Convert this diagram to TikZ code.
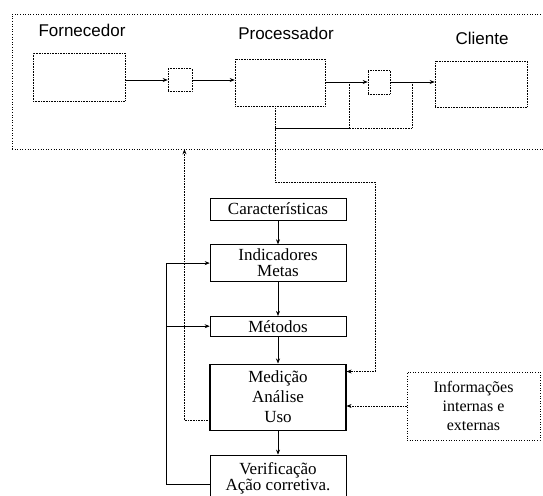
\documentclass[tikz,border=0pt]{standalone}
\usepackage{fontspec}
\setmainfont{Liberation Serif}
\newfontfamily\labelfont{Liberation Sans}
\usetikzlibrary{arrows.meta,positioning}

\begin{document}
\begin{tikzpicture}[x=1pt, y=-1pt, >={Stealth[length=5pt,width=4pt]}, line width=0.6pt,
    unit/.style={rectangle, draw, densely dotted, inner sep=0pt},
    stage/.style={rectangle, draw, minimum width=136pt, align=center, inner sep=2pt, font=\fontsize{17}{20}\selectfont},
    tag/.style={anchor=base, font=\labelfont\fontsize{17}{18}\selectfont},
    feed/.style={densely dotted}]
    \useasboundingbox (0,0) rectangle (543,495);

    % process chain
    \node [draw, dotted, minimum width=540pt, minimum height=135pt] (sys) at (282,81.5) {};
    \node [unit, minimum width=92pt, minimum height=48pt] (forn) at (79,77) {};
    \node [unit, minimum width=24pt, minimum height=23pt] (ent) at (180,80) {};
    \node [unit, minimum width=90pt, minimum height=47pt] (proc) at (280,82.5) {};
    \node [unit, minimum width=22pt, minimum height=24pt] (sai) at (379,82) {};
    \node [unit, minimum width=92pt, minimum height=46pt] (cli) at (481,84) {};
    \node [tag] (tforn) at (82,37) {Fornecedor};
    \node [tag] (tproc) at (286,40) {Processador};
    \node [tag] (tcli) at (482,45) {Cliente};

    \draw [->] (forn.east |- ent) -- (ent.west);
    \draw [->] (ent.east) -- (proc.west |- ent);
    \draw [->] (proc.east |- sai) -- (sai.west);
    \draw [->] (sai.east) -- (cli.west |- sai);

    % control column
    \node [stage, minimum height=22pt] (car) at (278,209) {Características};
    \node [stage, minimum height=37pt, below=24pt of car, font=\fontsize{17}{16}\selectfont] (ind) {Indicadores\\Metas};
    \node [stage, minimum height=20pt, below=34pt of ind] (met) {Métodos};
    \node [stage, minimum height=66pt, below=27pt of met, line width=1.1pt] (med) {Medição\\Análise\\Uso};
    \node [stage, minimum height=46pt, below=24pt of med, font=\fontsize{17}{16}\selectfont] (ver) {Verificação\\Ação corretiva.};
    \node [draw, dotted, minimum width=133pt, minimum height=68pt, align=center, font=\fontsize{16}{19}\selectfont] (info) at (473.5,406) {Informações\\internas e\\externas};

    \draw [->] (car) -- (ind);
    \draw [->] (ind) -- (met);
    \draw [->] (met) -- (med);
    \draw [->] (med) -- (ver);

    % feedback
    \coordinate (fa) at (349,82);
    \coordinate (fb) at (412,82);
    \coordinate (fj) at (275,128);
    \coordinate (fk) at (275,182);
    \coordinate (fm) at (375,182);
    \draw [feed] (fa) |- (fj);
    \draw [feed] (fb) |- (fj);
    \draw [feed, ->] (proc.south -| fj) -- (fk) -- (fm) |- ([yshift=-8pt]med.north east);
    \draw [feed, ->] ([yshift=10pt]med.south west) -- ++(-25,0) coordinate (mu) -- (mu |- sys.south);
    \draw [->] ([yshift=-6pt]ver.west) -- ++(-43,0) coordinate (vl) |- (ind.west);
    \draw [->] (vl |- met.west) -- (met.west);
    \draw [feed, ->] (info.west) -- (info.west -| med.east);
\end{tikzpicture}
\end{document}
